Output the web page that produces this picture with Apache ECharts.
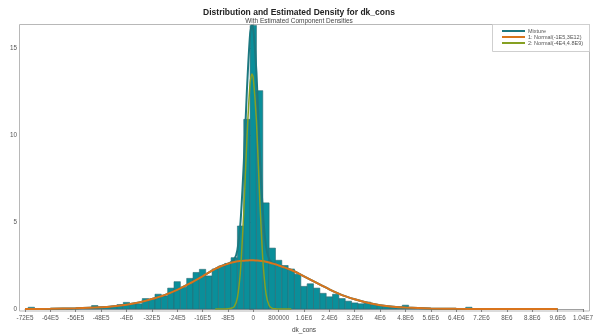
<!DOCTYPE html>
<html>
<head>
<meta charset="utf-8">
<script src="https://cdn.jsdelivr.net/npm/echarts@6/dist/echarts.min.js"></script>
<style>
html,body{margin:0;padding:0;background:#fff;}
#chart{width:598px;height:334px;}
</style>
</head>
<body>
<div id="chart"></div>
<script>
// Histogram bin centers (bin width 200000)
const binCenters = [
-7000000,-6800000,-6600000,-6400000,-6200000,-6000000,-5800000,-5600000,-5400000,-5200000,
-5000000,-4800000,-4600000,-4400000,-4200000,-4000000,-3800000,-3600000,-3400000,-3200000,
-3000000,-2800000,-2600000,-2400000,-2200000,-2000000,-1800000,-1600000,-1400000,-1200000,
-1000000,-800000,-600000,-400000,-200000,0,200000,400000,600000,800000,
1000000,1200000,1400000,1600000,1800000,2000000,2200000,2400000,2600000,2800000,
3000000,3200000,3400000,3600000,3800000,4000000,4200000,4400000,4600000,4800000,
5000000,5200000,5400000,5600000,5800000,6000000,6200000,6400000,6600000,6800000
];
const binPercent = [
0.1,0,0,0,0,0.02,0,0.02,0.03,0.05,
0.2,0.1,0.12,0.15,0.25,0.38,0.32,0.3,0.6,0.55,
0.85,0.75,1.2,1.57,1.25,1.76,2.1,2.28,1.9,2.3,
2.47,2.62,2.95,4.77,10.9,16.3,12.55,6.1,3.5,2.8,
2.5,2.3,2.0,1.3,1.45,1.2,0.9,0.7,0.85,0.6,
0.45,0.35,0.3,0.4,0.25,0.2,0.15,0.15,0.12,0.22,
0.08,0.03,0.03,0.03,0.03,0.03,0.03,0.03,0.03,0.1
];

// Density curves sampled at these x positions
const curveX = [
-7200000,-6400000,-5600000,-4800000,-4400000,-4000000,-3600000,-3200000,-2800000,-2400000,
-2000000,-1600000,-1200000,-1000000,-800000,-700000,-600000,-500000,-400000,-300000,
-200000,-100000,-40000,0,100000,200000,300000,400000,500000,600000,
700000,800000,1000000,1200000,1600000,2000000,2400000,2800000,3200000,3600000,
4000000,4400000,4800000,5600000,6400000,7200000,8000000,8800000,9600000
];
const mixtureY = [
0.0,0.01,0.04,0.1,0.16,0.25,0.38,0.57,0.8,1.1,
1.47,1.88,2.3,2.47,2.61,2.7,2.84,3.4,5.06,8.38,
12.6,15.8,16.3,16.1,13.6,9.28,5.66,3.62,2.87,2.66,
2.58,2.5,2.38,2.24,1.88,1.5,1.13,0.8,0.56,0.36,
0.22,0.13,0.08,0.03,0.01,0.0,0,0,0
];
const comp1Y = [
0.0,0.01,0.04,0.1,0.16,0.25,0.38,0.57,0.8,1.1,
1.47,1.88,2.3,2.47,2.6,2.66,2.7,2.74,2.76,2.78,
2.79,2.8,2.8,2.8,2.79,2.78,2.76,2.72,2.67,2.62,
2.57,2.5,2.38,2.24,1.88,1.5,1.13,0.8,0.56,0.36,
0.22,0.13,0.08,0.03,0.01,0.0,0,0,0
];
const comp2Y = [
null,null,null,null,null,null,null,null,null,null,
null,null,0,0,0.01,0.04,0.14,0.65,2.3,5.6,
9.8,13.0,13.5,13.3,10.8,6.5,2.9,0.9,0.2,0.04,
0.01,0,0,0,null,null,null,null,null,null,
null,null,null,null,null,null,null,null,null
];

const seriesNames = ['Mixture','1: Normal(-1E5,3E12)','2: Normal(-4E4,4.8E9)'];
const xTickLabels = ['-72E5','-64E5','-56E5','-48E5','-4E6','-32E5','-24E5','-16E5','-8E5','0','800000',
  '1.6E6','2.4E6','3.2E6','4E6','4.8E6','5.6E6','6.4E6','7.2E6','8E6','8.8E6','9.6E6','1.04E7'];
const yTickLabels = ['0','5','10','15'];

const X_MIN = -7200000, X_MAX = 10400000, X_STEP = 800000, BIN = 200000, Y_STEP = 5;
const FONT = 'Liberation Sans, Arial, sans-serif';

function pairs(xs, ys){
  const out = [];
  for (let i = 0; i < xs.length; i++) if (ys[i] !== null) out.push([xs[i], ys[i]]);
  return out;
}

const chart = echarts.init(document.getElementById('chart'), null, {renderer:'canvas'});
chart.setOption({
  animation:false,
  backgroundColor:'#fff',
  title:{
    text:'Distribution and Estimated Density for dk_cons',
    subtext:'With Estimated Component Densities',
    left:'center', top:3, itemGap:1,
    textStyle:{fontFamily:FONT,fontSize:8.5,fontWeight:'bold',color:'#222'},
    subtextStyle:{fontFamily:FONT,fontSize:6.5,color:'#444'}
  },
  legend:{
    orient:'vertical', left:502, top:28, padding:0,
    data:seriesNames,
    icon:'rect', itemWidth:23, itemHeight:2, itemGap:0,
    textStyle:{fontFamily:FONT,fontSize:5.5,color:'#555',lineHeight:5, padding:[0,0,0,-2]},
    selectedMode:false
  },
  grid:{left:25, right:15, top:24, bottom:25, containLabel:false, outerBoundsMode:'none'},
  xAxis:{
    type:'value', min:X_MIN, max:X_MAX, interval:X_STEP, offset:2,
    name:'dk_cons', nameLocation:'middle', nameGap:16,
    nameTextStyle:{fontFamily:FONT,fontSize:6.5,color:'#444'},
    axisLine:{show:true,lineStyle:{color:'#a0a0a0',width:1}},
    axisTick:{show:true,length:3,lineStyle:{color:'#808080'}},
    axisLabel:{interval:0,fontFamily:FONT,fontSize:6.3,color:'#555',margin:4,
      hideOverlap:false,
      formatter:function(v){const i=Math.round((v-X_MIN)/X_STEP);return xTickLabels[i]!==undefined?xTickLabels[i]:'';}},
    splitLine:{show:false}
  },
  yAxis:{
    type:'value', min:0, max:16.38, interval:Y_STEP, offset:6,
    name:'Percent', nameLocation:'middle', nameGap:19,
    nameTextStyle:{fontFamily:FONT,fontSize:6.5,color:'#d0d0d0'},
    axisLine:{show:true,lineStyle:{color:'#a0a0a0',width:1}},
    axisTick:{show:true,length:4,lineStyle:{color:'#808080'}},
    axisLabel:{fontFamily:FONT,fontSize:6.3,color:'#555',margin:2,showMaxLabel:false,
      formatter:function(v){
        const r = v / Y_STEP;
        if (Math.abs(r - Math.round(r)) > 1e-6) return '';
        const i = Math.round(r);
        return yTickLabels[i]!==undefined?yTickLabels[i]:'';
      }},
    splitLine:{show:false}
  },
  graphic:[
    {type:'rect', z:-1, shape:{x:19.5,y:24.5,width:570,height:286.5},
      style:{fill:'none',stroke:'#b8b8b8',lineWidth:1}},
    {type:'rect', z:-1, shape:{x:492.5,y:24.5,width:97,height:27},
      style:{fill:'none',stroke:'#cfcfcf',lineWidth:1}}
  ],
  series:[
    {
      type:'custom', name:'Histogram', z:1,
      data: binCenters.map((c,i)=>[c, binPercent[i]]),
      renderItem:function(params, api){
        const c = api.value(0), h = api.value(1);
        const a = api.coord([c - BIN/2, h]);
        const b = api.coord([c + BIN/2, 0]);
        return {type:'rect', shape:{x:a[0], y:a[1], width:b[0]-a[0], height:b[1]-a[1]},
          style:{fill:'#0a8f9a', stroke:'#2b6a72', lineWidth:0.6}};
      }
    },
    {
      type:'line', name:seriesNames[0], z:3, data:pairs(curveX, mixtureY),
      smooth:0.25, showSymbol:false, color:'#1c7880',
      lineStyle:{color:'#1c7880', width:2}
    },
    {
      type:'line', name:seriesNames[1], z:4, data:pairs(curveX, comp1Y),
      smooth:0.25, showSymbol:false, color:'#d9741c',
      lineStyle:{color:'#d9741c', width:2}
    },
    {
      type:'line', name:seriesNames[2], z:5, data:pairs(curveX, comp2Y),
      smooth:0.25, showSymbol:false, color:'#86a022',
      lineStyle:{color:'#86a022', width:1.5}
    }
  ]
});
</script>
</body>
</html>
